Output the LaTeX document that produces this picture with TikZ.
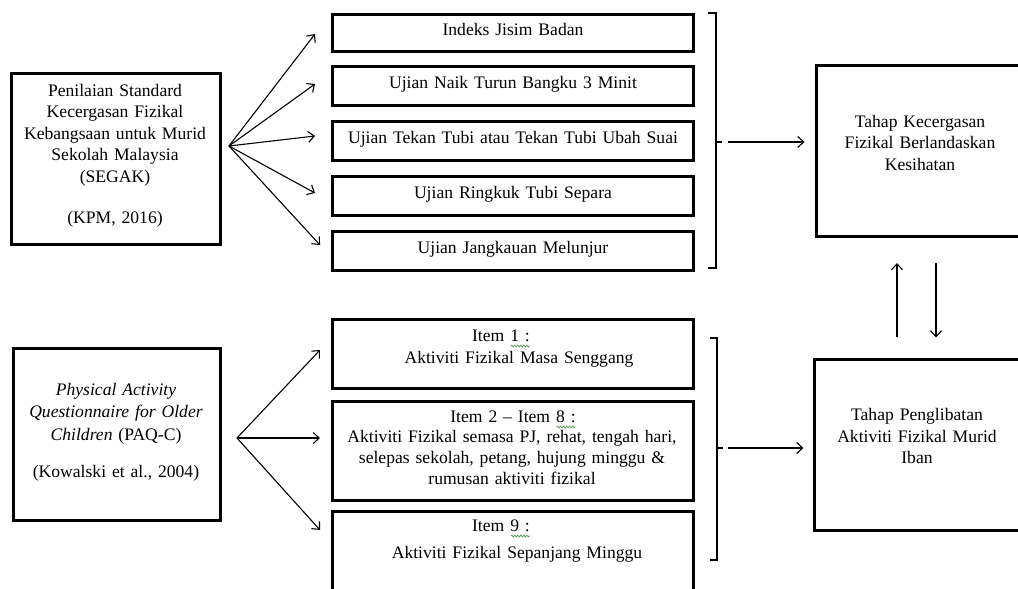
\documentclass[tikz,border=0pt]{standalone}
\usepackage{fontspec}
\setmainfont{Liberation Serif}
\usetikzlibrary{arrows.meta,decorations.pathmorphing}
\definecolor{wavygreen}{RGB}{90,160,90}
\newcommand\ts{\rule[-4pt]{0pt}{16pt}}
\newcommand\nfa{\fontsize{17.6}{21.5}\selectfont\spaceskip=5.9pt\relax}
\newcommand\nfb{\fontsize{17.6}{22.5}\selectfont\spaceskip=5.9pt\relax}
\newcommand\nfc{\fontsize{17.6}{21}\selectfont\spaceskip=5.9pt\relax}
\begin{document}
\begin{tikzpicture}[x=1pt,y=-1pt,
  box/.style={draw, line width=3pt, inner sep=0pt, outer sep=0pt},
  txt/.style={font=\nfa, align=center, inner sep=0pt, outer sep=0pt},
  onebox/.style={box, txt, minimum width=361pt, text height=12pt, text depth=7pt},
  arr/.style={line width=1.1pt, -{Straight Barb[length=6pt,width=11pt,line width=1.1pt]}},
  brk/.style={line width=1.2pt},
  wavy/.style={draw=wavygreen, line width=0.8pt, decorate, decoration={snake, amplitude=0.9pt, segment length=3pt}}]
\clip (0,0) rectangle (1018,589);

% left boxes
\node[box, minimum width=209pt, minimum height=171pt] (L1) at (116,159) {};
\node[txt] (L1t) at (115,155.5) {\ts Penilaian Standard\\\ts Kecergasan Fizikal\\\ts Kebangsaan untuk Murid\\\ts Sekolah Malaysia\\\ts (SEGAK)\\[19.5pt]\ts (KPM, 2016)};
\node[box, minimum width=207pt, minimum height=172pt] (L2) at (117,434.5) {};
\node[txt, font=\nfb] (L2t) at (116,432) {\ts\textit{Physical Activity}\\\ts\textit{Questionnaire for Older}\\\ts\textit{Children} (PAQ-C)\\[14.5pt]\ts (Kowalski et al., 2004)};

% top middle boxes
\node[onebox, minimum height=37pt] (T1) at (513,33) {Indeks Jisim Badan};
\node[onebox, minimum height=39pt] (T2) at (513,86) {Ujian Naik Turun Bangku 3 Minit};
\node[onebox, minimum height=39pt] (T3) at (513,141) {Ujian Tekan Tubi atau Tekan Tubi Ubah Suai};
\node[onebox, minimum height=39pt] (T4) at (513,196) {Ujian Ringkuk Tubi Separa};
\node[onebox, minimum height=39pt] (T5) at (513,251) {Ujian Jangkauan Melunjur};

% bottom middle boxes
\node[box, minimum width=361pt, minimum height=69pt] (B1) at (513,354) {};
\node[txt] (B1a) at (501,337) {\ts Item 1 :};
\node[txt] (B1b) at (519,359) {\ts Aktiviti Fizikal Masa Senggang};
\node[box, minimum width=361pt, minimum height=99pt] (B2) at (513,451) {};
\node[txt] (B2a) at (513,418) {\ts Item 2 -- Item 8 :};
\node[txt, font=\nfc] (B2b) at (512,459) {\ts Aktiviti Fizikal semasa PJ, rehat, tengah hari,\\\ts selepas sekolah, petang, hujung minggu \&\\\ts rumusan aktiviti fizikal};
\node[box, minimum width=361pt, minimum height=100pt] (B3) at (513,561.5) {};
\node[txt] (B3a) at (501,527) {\ts Item 9 :};
\node[txt] (B3b) at (517,554) {\ts Aktiviti Fizikal Sepanjang Minggu};

% grammar-check underlines
\draw[wavy] ([shift={(-19,5)}]B1a.base east) -- ([shift={(0,5)}]B1a.base east);
\draw[wavy] ([shift={(-19,5)}]B2a.base east) -- ([shift={(0,5)}]B2a.base east);
\draw[wavy] ([shift={(-19,5)}]B3a.base east) -- ([shift={(0,5)}]B3a.base east);

% right boxes
\node[box, minimum width=208pt, minimum height=171pt] (R1) at (920.5,151) {};
\node[txt] (R1t) at (920,144.5) {\ts Tahap Kecergasan\\\ts Fizikal Berlandaskan\\\ts Kesihatan};
\node[box, minimum width=206pt, minimum height=171pt] (R2) at (917.5,445) {};
\node[txt] (R2t) at (917,438) {\ts Tahap Penglibatan\\\ts Aktiviti Fizikal Murid\\\ts Iban};

% fan arrows, top
\coordinate (o1) at (229,146);
\coordinate (t1) at (315,34);
\coordinate (t2) at (315,84);
\coordinate (t3) at (315,136);
\coordinate (t4) at (315,193);
\coordinate (t5) at (320,245);
\foreach \t in {t1,t2,t3,t4,t5} \draw[arr] (o1) -- (\t);

% fan arrows, bottom
\coordinate (o2) at (237,438);
\coordinate (s1) at (320,350);
\coordinate (s2) at (320,438);
\coordinate (s3) at (320,530);
\foreach \t in {s1,s2,s3} \draw[arr] (o2) -- (\t);

% brackets
\draw[brk] (708,13) -- (716,13) -- (716,268) -- (708,268);
\draw[brk] (716,142) -- (722,142);
\coordinate (k1) at (728,142);
\draw[arr, shorten >=12pt] (k1) -- (k1 -| R1.west);

\draw[brk] (710,338) -- (717,338) -- (717,560) -- (710,560);
\draw[brk] (717,448) -- (723,448);
\coordinate (k2) at (728,448);
\draw[arr, shorten >=11pt] (k2) -- (k2 -| R2.west);

% vertical arrows
\coordinate (ux) at (897,0);
\coordinate (dx) at (936,0);
\draw[arr, shorten <=22.5pt, shorten >=26.5pt] (R2.north -| ux) -- (R1.south -| ux);
\draw[arr, shorten <=26.5pt, shorten >=22pt] (R1.south -| dx) -- (R2.north -| dx);
\end{tikzpicture}
\end{document}
